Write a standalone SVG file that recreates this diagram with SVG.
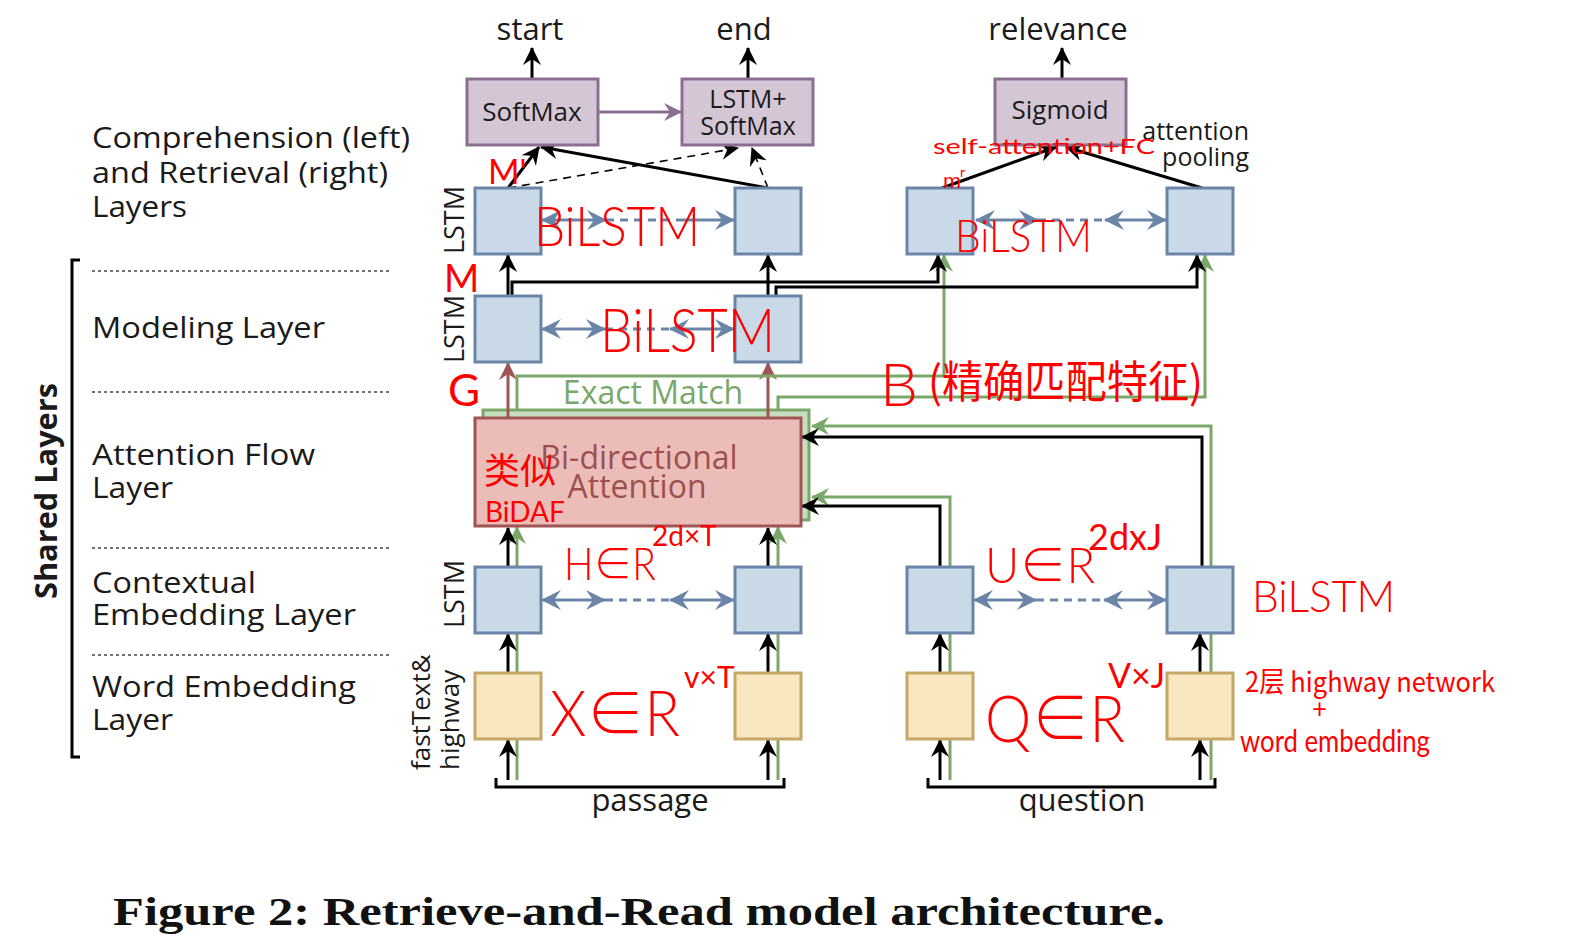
<svg xmlns="http://www.w3.org/2000/svg" width="1572" height="946" viewBox="0 0 1572 946">
<style>
.t{font-family:"Open Sans","Noto Sans",sans-serif;fill:#1a1a1a}
.lbl{font-size:30px}
.io{font-size:31px;text-anchor:middle}
.bx{font-size:26px;text-anchor:middle}
.bx2{font-size:25px;text-anchor:middle}
.blue{fill:#c9d9e7;stroke:#6b85a8;stroke-width:3}
.yel{fill:#f8e6bf;stroke:#c4a868;stroke-width:3}
.pur{fill:#d5c6d6;stroke:#8b6f91;stroke-width:3}
.k{fill:none;stroke:#000;stroke-width:3}
.kd{fill:none;stroke:#000;stroke-width:1.6;stroke-dasharray:8 6}
.g{fill:none;stroke:#7aa86a;stroke-width:3}
.bl{fill:none;stroke:#6b85a8;stroke-width:3}
.bld{fill:none;stroke:#6b85a8;stroke-width:3;stroke-dasharray:8 6}
.dot{fill:none;stroke:#444;stroke-width:1.5;stroke-dasharray:3 3}
.hw{font-family:"Lato","Liberation Sans","Noto Sans CJK SC",sans-serif;font-weight:300;fill:#ff0000}
.hws{font-family:"Lato","Liberation Sans","Noto Sans CJK SC",sans-serif;font-weight:400;fill:#ff0000}
.hwc{font-family:"Noto Sans CJK SC",sans-serif;font-weight:400;fill:#ff0000}
</style>
<defs>
<marker id="ak" markerUnits="userSpaceOnUse" markerWidth="20" markerHeight="18" refX="17" refY="9" orient="auto"><path d="M0,0 L18,9 L0,18 L6,9 z" fill="#000"/></marker>
<marker id="ag" markerUnits="userSpaceOnUse" markerWidth="20" markerHeight="18" refX="17" refY="9" orient="auto"><path d="M0,0 L18,9 L0,18 L6,9 z" fill="#7aa86a"/></marker>
<marker id="ab" markerUnits="userSpaceOnUse" markerWidth="22" markerHeight="20" refX="19" refY="10" orient="auto-start-reverse"><path d="M0,0 L20,10 L0,20 L7,10 z" fill="#6b85a8"/></marker>
<marker id="ar" markerUnits="userSpaceOnUse" markerWidth="20" markerHeight="18" refX="17" refY="9" orient="auto"><path d="M0,0 L18,9 L0,18 L6,9 z" fill="#a05555"/></marker>
<marker id="ap" markerUnits="userSpaceOnUse" markerWidth="20" markerHeight="18" refX="17" refY="9" orient="auto"><path d="M0,0 L18,9 L0,18 L6,9 z" fill="#8b6f91"/></marker>
</defs>
<rect width="1572" height="946" fill="#fff"/>

<g id="layer-labels">
<text class="t lbl" x="92" y="148" textLength="318" lengthAdjust="spacingAndGlyphs">Comprehension (left)</text>
<text class="t lbl" x="92" y="183" textLength="296" lengthAdjust="spacingAndGlyphs">and Retrieval (right)</text>
<text class="t lbl" x="92" y="217" textLength="95" lengthAdjust="spacingAndGlyphs">Layers</text>
<text class="t lbl" x="92" y="338" textLength="233" lengthAdjust="spacingAndGlyphs">Modeling Layer</text>
<text class="t lbl" x="92" y="465" textLength="223" lengthAdjust="spacingAndGlyphs">Attention Flow</text>
<text class="t lbl" x="92" y="498" textLength="81" lengthAdjust="spacingAndGlyphs">Layer</text>
<text class="t lbl" x="92" y="593" textLength="164" lengthAdjust="spacingAndGlyphs">Contextual</text>
<text class="t lbl" x="92" y="625" textLength="264" lengthAdjust="spacingAndGlyphs">Embedding Layer</text>
<text class="t lbl" x="92" y="697" textLength="264" lengthAdjust="spacingAndGlyphs">Word Embedding</text>
<text class="t lbl" x="92" y="730" textLength="81" lengthAdjust="spacingAndGlyphs">Layer</text>
<path class="dot" d="M92,271 H390 M92,392 H390 M92,548 H390 M92,655 H390"/>
<path d="M80,260 H72 V757 H80" fill="none" stroke="#000" stroke-width="3"/>
<text class="t" font-size="30" font-weight="bold" transform="translate(57,491) rotate(-90)" text-anchor="middle" textLength="216" lengthAdjust="spacingAndGlyphs">Shared Layers</text>
<text class="t" font-size="27" transform="translate(464,220) rotate(-90)" text-anchor="middle">LSTM</text>
<text class="t" font-size="27" transform="translate(464,329) rotate(-90)" text-anchor="middle">LSTM</text>
<text class="t" font-size="27" transform="translate(464,594) rotate(-90)" text-anchor="middle">LSTM</text>
<text class="t" font-size="26" transform="translate(430,770) rotate(-90)">fastText&amp;</text>
<text class="t" font-size="26" transform="translate(459,770) rotate(-90)">highway</text>
</g>

<g id="shadow-exact-match">
<rect x="483" y="410" width="326" height="110" fill="#c8dcc2" stroke="#7aa86a" stroke-width="3"/>
</g>

<g id="connectors">
<path class="g" d="M517,780 V527" marker-end="url(#ag)"/>
<path class="g" d="M778,780 V527" marker-end="url(#ag)"/>
<path class="g" d="M950,780 V497 H812" marker-end="url(#ag)"/>
<path class="g" d="M1211,780 V426 H812" marker-end="url(#ag)"/>
<path class="k" d="M508,780 V740" marker-end="url(#ak)"/>
<path class="k" d="M508,673 V634" marker-end="url(#ak)"/>
<path class="k" d="M508,566 V528" marker-end="url(#ak)"/>
<path class="k" d="M768,780 V740" marker-end="url(#ak)"/>
<path class="k" d="M768,673 V634" marker-end="url(#ak)"/>
<path class="k" d="M768,566 V528" marker-end="url(#ak)"/>
<path class="k" d="M940,780 V740" marker-end="url(#ak)"/>
<path class="k" d="M940,673 V634" marker-end="url(#ak)"/>
<path class="k" d="M1200,780 V740" marker-end="url(#ak)"/>
<path class="k" d="M1200,673 V634" marker-end="url(#ak)"/>
<path class="k" d="M940,566 V506 H802" marker-end="url(#ak)"/>
<path class="k" d="M1202,566 V437 H802" marker-end="url(#ak)"/>
<path fill="none" stroke="#a05555" stroke-width="3" d="M508,418 V363" marker-end="url(#ar)"/>
<path fill="none" stroke="#a05555" stroke-width="3" d="M768,418 V363" marker-end="url(#ar)"/>
<path class="g" d="M517,410 V376 H944 V255" marker-end="url(#ag)"/>
<path class="g" d="M778,410 V397 H1205 V255" marker-end="url(#ag)"/>
<path class="k" d="M508,296 V255" marker-end="url(#ak)"/>
<path class="k" d="M768,296 V255" marker-end="url(#ak)"/>
<path class="k" d="M512,296 V282 H938 V255" marker-end="url(#ak)"/>
<path class="k" d="M776,296 V287 H1197 V255" marker-end="url(#ak)"/>
<path class="bl" d="M542,220 H606" marker-start="url(#ab)" marker-end="url(#ab)"/>
<path class="bld" d="M606,220 H680"/>
<path class="bl" d="M680,220 H734" marker-end="url(#ab)"/>
<path class="bl" d="M976,220 H1038" marker-start="url(#ab)" marker-end="url(#ab)"/>
<path class="bld" d="M1038,220 H1105"/>
<path class="bl" d="M1105,220 H1166" marker-start="url(#ab)" marker-end="url(#ab)"/>
<path class="bl" d="M542,329 H605" marker-start="url(#ab)" marker-end="url(#ab)"/>
<path class="bld" d="M605,329 H670"/>
<path class="bl" d="M670,329 H734" marker-start="url(#ab)" marker-end="url(#ab)"/>
<path class="bl" d="M542,600 H605" marker-start="url(#ab)" marker-end="url(#ab)"/>
<path class="bld" d="M605,600 H670"/>
<path class="bl" d="M670,600 H734" marker-start="url(#ab)" marker-end="url(#ab)"/>
<path class="bl" d="M974,600 H1036" marker-start="url(#ab)" marker-end="url(#ab)"/>
<path class="bld" d="M1036,600 H1104"/>
<path class="bl" d="M1104,600 H1166" marker-start="url(#ab)" marker-end="url(#ab)"/>
<path class="k" d="M508,188 L539,147" marker-end="url(#ak)"/>
<path class="k" d="M768,188 L541,147" marker-end="url(#ak)"/>
<path class="kd" d="M508,188 L738,148" marker-end="url(#ak)"/>
<path class="kd" d="M768,188 L752,148" marker-end="url(#ak)"/>
<path class="k" d="M942,188 L1056,147" marker-end="url(#ak)"/>
<path class="k" d="M1202,188 L1066,147" marker-end="url(#ak)"/>
<path fill="none" stroke="#8b6f91" stroke-width="3" d="M598,112 H681" marker-end="url(#ap)"/>
<path class="k" d="M532,79 V48" marker-end="url(#ak)"/>
<path class="k" d="M748,79 V48" marker-end="url(#ak)"/>
<path class="k" d="M1062,79 V48" marker-end="url(#ak)"/>
<path d="M496,778 V787 H784 V778" fill="none" stroke="#000" stroke-width="3"/>
<path d="M928,778 V787 H1215 V778" fill="none" stroke="#000" stroke-width="3"/>
</g>

<g id="softmax-start"><rect class="pur" x="467" y="79" width="131" height="66"/><text class="t bx" x="532" y="121">SoftMax</text></g>
<g id="lstm-softmax-end"><rect class="pur" x="682" y="79" width="131" height="66"/><text class="t bx2" x="748" y="108">LSTM+</text><text class="t bx2" x="748" y="135">SoftMax</text></g>
<g id="sigmoid"><rect class="pur" x="995" y="79" width="131" height="66"/><text class="t bx" x="1060" y="119">Sigmoid</text></g>
<g id="outputs">
<text class="t io" x="530" y="40">start</text>
<text class="t io" x="744" y="40">end</text>
<text class="t io" x="1058" y="40">relevance</text>
<text class="t" font-size="25" x="1249" y="140" text-anchor="end">attention</text>
<text class="t" font-size="25" x="1249" y="166" text-anchor="end">pooling</text>
</g>
<g id="comp-lstm-1"><rect class="blue" x="475" y="188" width="66" height="66"/></g>
<g id="comp-lstm-2"><rect class="blue" x="735" y="188" width="66" height="66"/></g>
<g id="ret-lstm-1"><rect class="blue" x="907" y="188" width="66" height="66"/></g>
<g id="ret-lstm-2"><rect class="blue" x="1167" y="188" width="66" height="66"/></g>
<g id="model-lstm-1"><rect class="blue" x="475" y="296" width="66" height="66"/></g>
<g id="model-lstm-2"><rect class="blue" x="735" y="296" width="66" height="66"/></g>
<g id="attention"><rect x="475" y="418" width="326" height="108" fill="#ecbcb8" stroke="#a05555" stroke-width="3"/>
<text font-family="Open Sans,sans-serif" font-size="32" fill="#9c5050" x="639" y="469" text-anchor="middle">Bi-directional</text>
<text font-family="Open Sans,sans-serif" font-size="32" fill="#9c5050" x="637" y="498" text-anchor="middle">Attention</text></g>
<g id="exact-match-label"><text font-family="Open Sans,sans-serif" font-size="32" fill="#7aa86a" x="653" y="404" text-anchor="middle">Exact Match</text></g>
<g id="ctx-p1"><rect class="blue" x="475" y="567" width="66" height="66"/></g>
<g id="ctx-p2"><rect class="blue" x="735" y="567" width="66" height="66"/></g>
<g id="ctx-q1"><rect class="blue" x="907" y="567" width="66" height="66"/></g>
<g id="ctx-q2"><rect class="blue" x="1167" y="567" width="66" height="66"/></g>
<g id="emb-p1"><rect class="yel" x="475" y="673" width="66" height="66"/></g>
<g id="emb-p2"><rect class="yel" x="735" y="673" width="66" height="66"/></g>
<g id="emb-q1"><rect class="yel" x="907" y="673" width="66" height="66"/></g>
<g id="emb-q2"><rect class="yel" x="1167" y="673" width="66" height="66"/></g>
<g id="inputs">
<text class="t io" x="650" y="811">passage</text>
<text class="t io" x="1082" y="811">question</text>
</g>

<g id="annotations">
<text class="hws" font-size="34" x="488" y="184">M'</text>
<text class="hw" font-size="56" x="534" y="246" textLength="166" lengthAdjust="spacingAndGlyphs">BiLSTM</text>
<text class="hws" font-size="22" x="933" y="154" textLength="222" lengthAdjust="spacingAndGlyphs">self-attention+FC</text>
<text class="hws" font-size="22" x="943" y="188">m</text><text class="hws" font-size="14" x="960" y="177">r</text>
<text class="hw" font-size="46" x="955" y="252" textLength="137" lengthAdjust="spacingAndGlyphs">BiLSTM</text>
<text class="hws" font-size="38" x="444" y="292">M</text>
<text class="hw" font-size="62" x="600" y="352" textLength="175" lengthAdjust="spacingAndGlyphs">BiLSTM</text>
<text class="hws" font-size="44" x="448" y="406">G</text>
<text class="hw" font-size="60" x="880" y="406">B</text>
<text class="hwc" font-size="44" x="928" y="398" textLength="275" lengthAdjust="spacingAndGlyphs">(精确匹配特征)</text>
<text class="hwc" font-size="36" x="484" y="484">类似</text>
<text class="hws" font-size="28" x="485" y="522">BiDAF</text>
<text class="hw" font-size="46" x="564" y="580" textLength="92" lengthAdjust="spacingAndGlyphs">H∈R</text>
<text class="hws" font-size="28" x="652" y="546">2d×T</text>
<text class="hw" font-size="50" x="985" y="583" textLength="110" lengthAdjust="spacingAndGlyphs">U∈R</text>
<text class="hws" font-size="36" x="1088" y="550">2dxJ</text>
<text class="hw" font-size="44" x="1252" y="612" textLength="143" lengthAdjust="spacingAndGlyphs">BiLSTM</text>
<text class="hw" font-size="64" x="550" y="736" textLength="130" lengthAdjust="spacingAndGlyphs">X∈R</text>
<text class="hws" font-size="30" x="684" y="688">v×T</text>
<text class="hw" font-size="66" x="985" y="742" textLength="140" lengthAdjust="spacingAndGlyphs">Q∈R</text>
<text class="hws" font-size="34" x="1108" y="688">V×J</text>
<text class="hwc" font-size="28" x="1245" y="692" textLength="250" lengthAdjust="spacingAndGlyphs">2层 highway network</text>
<text class="hws" font-size="26" x="1312" y="718">+</text>
<text class="hws" font-size="30" x="1240" y="752" textLength="190" lengthAdjust="spacingAndGlyphs">word embedding</text>
</g>

<g id="caption"><text font-family="Liberation Serif,serif" font-weight="bold" font-size="40" x="113" y="925" textLength="1052" lengthAdjust="spacingAndGlyphs" fill="#111">Figure 2: Retrieve-and-Read model architecture.</text></g>
</svg>
